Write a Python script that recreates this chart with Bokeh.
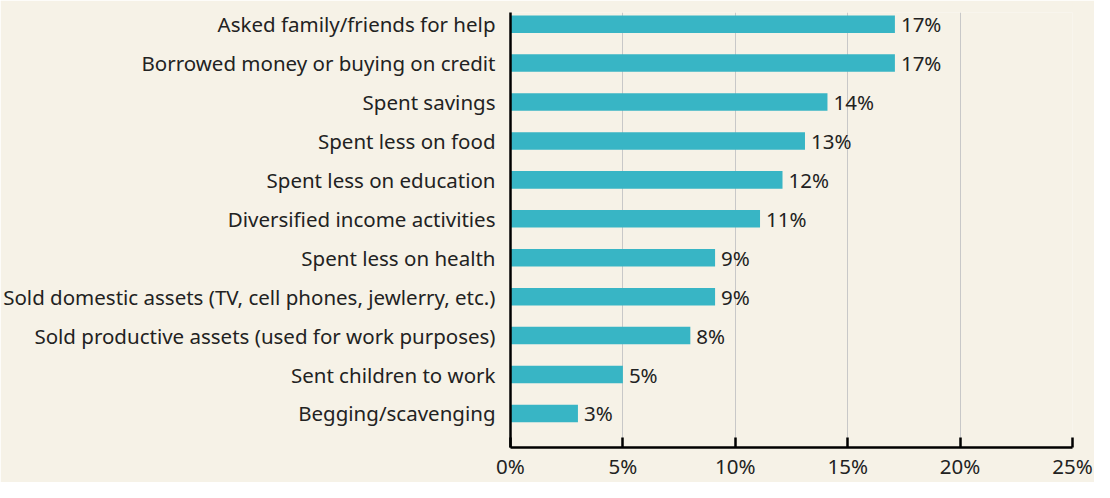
from bokeh.plotting import figure
from bokeh.models import Range1d, FixedTicker, PrintfTickFormatter, ColumnDataSource, LabelSet
from bokeh.core.properties import value
from bokeh.embed import file_html
from bokeh.resources import INLINE

categories = [
    "Asked family/friends for help",
    "Borrowed money or buying on credit",
    "Spent savings",
    "Spent less on food",
    "Spent less on education",
    "Diversified income activities",
    "Spent less on health",
    "Sold domestic assets (TV, cell phones, jewlerry, etc.)",
    "Sold productive assets (used for work purposes)",
    "Sent children to work",
    "Begging/scavenging",
]
values = [17.1, 17.1, 14.1, 13.1, 12.1, 11.1, 9.1, 9.1, 8.0, 5.0, 3.0]
x_ticks = [0, 5, 10, 15, 20, 25]

BG = "#f6f2e7"
BAR = "#38b5c5"
TXT = "#222222"
FONT = "Noto Sans"
FS = "20.5px"

n = len(categories)
ypos = [n - 1 - i for i in range(n)]
labels = [f"{round(v)}%" for v in values]
src = ColumnDataSource(dict(y=ypos, v=values, lab=labels))

W, H = 1094, 482
p = figure(width=W, height=H, output_backend="svg", toolbar_location=None,
           x_range=Range1d(0, 25), y_range=Range1d(-0.875, n - 1 + 0.3),
           min_border_left=503, min_border_right=22, min_border_top=12, min_border_bottom=32)
p.background_fill_color = BG
p.border_fill_color = BG
p.outline_line_color = None

p.hbar(y="y", right="v", left=0, height=0.45, source=src, color=BAR, line_color=None)

lbl = LabelSet(x="v", y="y", text="lab", source=src, x_offset=6, y_offset=0,
               text_baseline="middle", text_font=value(FONT), text_font_size=value(FS),
               text_color=TXT)
p.add_layout(lbl)

# x axis
p.xaxis.ticker = FixedTicker(ticks=x_ticks)
p.xaxis.formatter = PrintfTickFormatter(format="%d%%")
p.xaxis.axis_line_color = "black"
p.xaxis.axis_line_width = 2.5
p.xaxis.major_tick_line_color = "black"
p.xaxis.major_tick_line_width = 2.5
p.xaxis.major_tick_in = 10
p.xaxis.major_tick_out = 0
p.xaxis.minor_tick_line_color = None
p.xaxis.major_label_text_font = FONT
p.xaxis.major_label_text_font_size = FS
p.xaxis.major_label_text_color = TXT
p.xaxis.major_label_standoff = 4

# y axis
p.yaxis.ticker = FixedTicker(ticks=ypos)
p.yaxis.major_label_overrides = {y: c for y, c in zip(ypos, categories)}
p.yaxis.axis_line_color = "black"
p.yaxis.axis_line_width = 2.5
p.yaxis.major_tick_line_color = None
p.yaxis.minor_tick_line_color = None
p.yaxis.major_label_text_font = FONT
p.yaxis.major_label_text_font_size = FS
p.yaxis.major_label_text_color = TXT
p.yaxis.major_label_standoff = 9

p.xgrid.ticker = FixedTicker(ticks=x_ticks)
p.xgrid.grid_line_color = "#c8c8c8"
p.xgrid.grid_line_width = 1
p.ygrid.grid_line_color = None

open("out.html", "w").write(file_html(p, INLINE))
